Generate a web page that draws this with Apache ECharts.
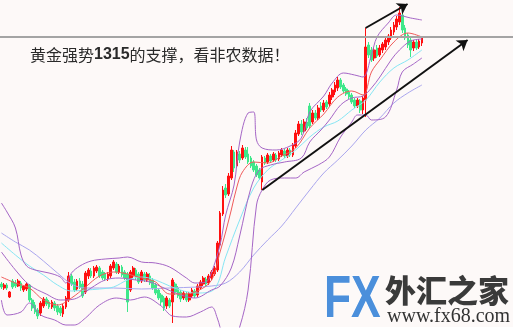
<!DOCTYPE html>
<html><head><meta charset="utf-8">
<script src="https://cdn.jsdelivr.net/npm/echarts@6/dist/echarts.min.js"></script>
<style>html,body{margin:0;padding:0;background:#fff}#c{width:516px;height:330px}</style>
</head><body><div id="c"></div><script>
// slot labels for the candle axis (candles fill the first 151 slots)
const slotCount = 183;
const categories = [];
for (let i = 0; i < slotCount; i++) categories.push('K' + i);

// candles: [open, close, low, high]
const candles = [
[1301.6,1301.3,1301.1,1301.8],[1301.2,1301.5,1301.0,1301.7],[1301.5,1301.2,1301.0,1301.7],[1300.3,1300.8,1300.2,1300.9],
[1301.9,1301.3,1301.1,1302.1],[1301.7,1301.4,1301.2,1302.0],[1301.4,1301.9,1301.3,1302.1],[1301.7,1301.2,1300.9,1301.9],
[1301.0,1301.4,1300.8,1301.5],[1301.1,1301.6,1300.9,1301.8],[1301.5,1300.0,1299.8,1301.6],[1300.0,1299.2,1298.9,1300.2],
[1299.5,1298.8,1298.6,1299.8],[1299.0,1298.4,1298.1,1299.2],[1298.7,1299.7,1298.4,1299.9],[1299.4,1300.1,1299.2,1300.3],
[1300.1,1299.6,1299.4,1300.3],[1299.8,1299.3,1299.1,1300.0],[1299.3,1299.8,1299.1,1300.0],[1299.7,1299.2,1298.9,1299.9],
[1299.4,1298.8,1298.5,1299.6],[1299.2,1298.7,1298.4,1299.4],[1298.6,1299.4,1298.3,1299.6],[1299.3,1300.2,1299.1,1300.4],
[1300.0,1302.4,1299.8,1302.8],[1302.4,1301.6,1301.4,1302.6],[1301.8,1301.0,1300.8,1302.1],[1301.1,1301.9,1300.9,1302.1],
[1301.9,1301.3,1301.1,1302.2],[1301.6,1300.4,1300.2,1301.9],[1300.8,1302.7,1300.6,1302.9],[1302.4,1303.0,1302.1,1303.2],
[1302.9,1302.4,1302.2,1303.2],[1302.4,1303.2,1302.2,1303.4],[1302.9,1303.3,1302.7,1303.5],[1303.2,1302.4,1302.2,1303.4],
[1302.8,1302.2,1302.0,1303.0],[1302.6,1302.1,1301.9,1302.8],[1302.1,1302.6,1301.9,1302.8],[1302.4,1303.4,1302.2,1303.6],
[1303.2,1303.8,1303.0,1304.0],[1303.6,1302.8,1302.6,1303.8],[1302.8,1303.4,1302.6,1303.6],[1303.3,1302.5,1302.3,1303.5],
[1302.8,1302.2,1302.0,1303.0],[1302.6,1299.8,1298.8,1302.8],[1301.0,1302.8,1300.8,1303.0],[1302.4,1303.2,1302.2,1303.4],
[1303.0,1302.2,1302.0,1303.2],[1302.6,1301.8,1301.6,1302.8],[1301.9,1302.8,1301.7,1303.0],[1302.6,1302.0,1301.8,1302.8],
[1302.0,1302.6,1301.8,1302.8],[1302.4,1301.7,1301.5,1302.7],[1302.0,1301.2,1301.0,1302.2],[1301.5,1300.7,1300.5,1301.7],
[1301.0,1300.2,1300.0,1301.2],[1300.5,1299.8,1299.5,1300.7],[1300.2,1299.2,1298.9,1300.4],[1299.4,1300.2,1299.1,1300.4],
[1300.0,1299.4,1299.2,1300.2],[1299.8,1302.0,1297.7,1302.2],[1301.6,1300.8,1300.5,1301.8],[1301.2,1300.4,1300.2,1301.4],
[1300.8,1300.1,1299.8,1301.0],[1300.2,1300.7,1300.0,1300.9],[1300.6,1300.0,1299.8,1300.8],[1300.0,1300.6,1299.8,1300.8],
[1300.4,1301.0,1300.2,1301.2],[1300.9,1300.4,1300.2,1301.1],[1300.5,1301.4,1300.3,1301.6],[1301.2,1301.8,1301.0,1302.0],
[1301.6,1302.2,1301.4,1302.4],[1302.1,1301.6,1301.4,1302.3],[1301.7,1302.4,1301.5,1302.6],[1302.2,1302.8,1302.0,1303.0],
[1302.6,1303.2,1302.4,1303.4],[1303.0,1305.7,1302.8,1305.9],[1305.5,1308.7,1305.3,1308.9],[1308.6,1311.0,1308.4,1311.4],
[1311.2,1310.5,1310.2,1311.6],[1310.6,1312.4,1310.4,1312.7],[1312.2,1315.0,1312.0,1315.4],[1314.8,1313.2,1312.8,1315.0],
[1313.4,1314.8,1313.2,1315.0],[1314.6,1314.0,1313.7,1314.9],[1314.2,1315.2,1314.0,1315.5],[1315.0,1314.3,1314.1,1315.3],
[1314.6,1313.8,1313.6,1315.3],[1314.2,1313.4,1313.2,1314.4],[1313.8,1313.0,1312.8,1314.0],[1313.4,1312.5,1312.3,1313.6],
[1313.0,1312.2,1312.0,1313.2],[1311.8,1314.3,1311.0,1314.5],[1314.2,1313.7,1313.5,1314.4],[1313.8,1314.5,1313.6,1314.7],
[1314.4,1313.9,1313.7,1314.6],[1314.0,1314.6,1313.8,1314.8],[1314.5,1314.0,1313.8,1314.7],[1314.1,1314.7,1313.9,1314.9],
[1314.5,1315.0,1314.3,1315.2],[1314.9,1314.4,1314.2,1315.1],[1314.4,1315.0,1314.2,1315.2],[1315.0,1314.5,1314.3,1315.2],
[1314.5,1315.5,1314.3,1315.7],[1315.4,1316.7,1315.2,1317.0],[1316.6,1317.6,1316.4,1317.9],[1317.6,1316.8,1316.5,1318.0],
[1316.9,1317.8,1316.7,1318.1],[1317.8,1317.2,1317.0,1318.2],[1319.4,1317.4,1317.2,1319.7],[1317.8,1318.7,1317.6,1319.0],
[1318.7,1318.2,1318.0,1319.0],[1318.2,1319.2,1318.0,1319.5],[1319.4,1319.0,1318.8,1319.8],[1319.0,1319.7,1318.8,1320.0],
[1319.8,1319.3,1319.1,1320.0],[1319.6,1320.5,1319.4,1320.8],[1320.3,1321.0,1320.0,1321.2],[1320.8,1321.5,1320.5,1321.8],
[1321.2,1322.0,1320.9,1322.3],[1322.0,1321.3,1321.1,1322.2],[1321.5,1320.9,1320.7,1321.7],[1321.1,1320.6,1320.4,1321.3],
[1320.8,1320.3,1320.1,1321.0],[1320.5,1319.8,1319.6,1320.7],[1320.0,1319.4,1319.2,1320.2],[1319.4,1320.0,1319.2,1320.2],
[1319.9,1319.0,1318.7,1320.1],[1319.0,1320.2,1318.6,1320.4],[1320.0,1325.3,1318.3,1327.2],[1325.5,1324.5,1324.2,1325.8],
[1325.0,1324.0,1323.8,1325.3],[1324.2,1325.0,1323.9,1325.3],[1325.2,1324.4,1324.2,1325.5],[1324.5,1325.2,1324.3,1325.5],
[1325.0,1325.6,1324.7,1325.8],[1325.3,1326.0,1325.0,1326.3],[1325.8,1326.4,1325.5,1326.6],[1326.2,1327.0,1326.0,1327.3],
[1326.8,1327.5,1326.5,1327.8],[1327.3,1328.1,1327.0,1328.4],[1327.8,1328.7,1327.5,1329.3],[1328.5,1327.0,1326.7,1328.8],
[1327.2,1326.2,1326.0,1327.5],[1326.5,1325.5,1325.2,1326.7],[1326.0,1325.0,1324.3,1326.2],[1325.2,1325.8,1324.9,1326.0],
[1325.8,1325.2,1325.0,1326.0],[1325.3,1325.9,1325.1,1326.1],[1325.7,1326.2,1325.4,1326.4]
];

// indicator lines: [candle index, price]
const bollUpper = [[0,1309.7],[2,1308.8],[5,1307.2],[7,1304.5],[9,1303.4],[12,1303.0],[17,1302.7],[21,1302.3],[23,1301.7],[25,1302.7],[28,1303.4],[32,1303.9],[37,1304.1],[42,1304.2],[45,1304.3],[50,1303.8],[55,1303.7],[60,1303.3],[66,1302.2],[69,1301.7],[73,1301.8],[75,1302.8],[78,1305.5],[80,1308.5],[83,1311.5],[85,1315.8],[88,1318.7],[90,1318.8],[91,1316.0],[93,1315.2],[98,1315.0],[103,1315.4],[107,1316.2],[110,1318.8],[115,1320.4],[118,1321.7],[122,1322.7],[126,1322.5],[129,1322.3],[132,1324.5],[134,1326.3],[138,1327.7],[141,1328.5],[146,1328.2],[150,1328.0]];
const bollMid = [[0,1304.8],[5,1303.0],[10,1301.5],[16,1300.6],[21,1300.0],[26,1300.1],[32,1301.2],[37,1302.0],[42,1302.2],[48,1302.0],[53,1301.8],[58,1301.2],[64,1300.5],[69,1300.2],[75,1301.0],[78,1301.4],[82,1303.2],[85,1306.4],[89,1311.2],[92,1313.0],[96,1313.5],[101,1313.8],[107,1314.2],[110,1315.8],[114,1317.0],[117,1318.0],[121,1319.5],[125,1320.2],[129,1320.4],[132,1321.2],[135,1322.3],[139,1324.0],[142,1325.0],[146,1325.9],[150,1326.1]];
const bollLower = [[0,1300.0],[2,1298.5],[7,1298.8],[10,1299.7],[14,1298.5],[19,1298.0],[23,1297.5],[26,1297.5],[30,1298.2],[35,1299.5],[41,1300.2],[46,1300.0],[51,1300.3],[57,1299.4],[61,1298.4],[66,1298.3],[71,1298.8],[75,1299.3],[77,1298.2],[79,1296.5],[82,1295.5],[85,1297.3],[88,1301.0],[91,1309.5],[93,1311.0],[96,1312.0],[101,1312.2],[105,1312.2],[108,1312.8],[113,1313.5],[117,1314.3],[121,1316.3],[125,1317.8],[127,1318.5],[130,1318.5],[132,1318.0],[137,1318.3],[141,1321.0],[143,1322.8],[147,1323.6],[150,1324.2]];
const maFast = [[0,1302.3],[5,1301.7],[10,1301.2],[15,1300.0],[20,1299.5],[25,1300.2],[30,1301.3],[35,1302.4],[40,1302.8],[45,1302.6],[50,1302.2],[55,1301.8],[60,1300.6],[65,1300.6],[70,1300.9],[75,1302.0],[78,1304.8],[80,1306.8],[82,1309.0],[84,1311.3],[86,1312.8],[90,1313.8],[95,1313.7],[100,1314.4],[105,1315.2],[110,1317.2],[115,1318.6],[120,1320.3],[125,1320.9],[129,1320.5],[132,1322.8],[135,1324.0],[140,1325.8],[145,1326.7],[150,1326.3]];
const maMid = [[0,1305.7],[5,1304.5],[10,1303.4],[15,1302.5],[20,1301.5],[25,1300.9],[30,1301.0],[35,1301.1],[40,1301.3],[45,1302.0],[50,1302.3],[55,1302.0],[60,1301.4],[65,1300.9],[70,1300.7],[76,1301.1],[80,1304.3],[85,1308.0],[90,1311.2],[95,1313.0],[100,1314.0],[105,1315.0],[110,1316.3],[115,1317.3],[120,1317.9],[125,1319.0],[130,1320.0],[135,1321.8],[140,1323.2],[145,1324.0],[150,1325.0]];
const maSlow = [[0,1306.7],[5,1305.8],[10,1305.0],[15,1303.9],[20,1302.7],[25,1301.6],[30,1301.2],[40,1301.2],[50,1301.1],[60,1301.2],[70,1301.3],[75,1301.4],[80,1301.7],[85,1302.8],[90,1304.5],[95,1306.0],[100,1307.4],[105,1309.2],[110,1311.0],[115,1312.7],[120,1314.0],[125,1315.4],[130,1317.0],[135,1318.2],[140,1319.7],[145,1320.7],[150,1321.5]];

// annotations
const levelLine = 1326.3;
const trendArrow = [[93.07,1311.0],[166.3,1326.0]];
const topArrow = [[129.9,1327.2],[144.9,1329.6]];
const headline = ['黄金强势', '1315', '的支撑，看非农数据！'];

const chart = echarts.init(document.getElementById('c'), null, {renderer: 'canvas'});
const lineSeries = (name, data, color) => ({
  name, type: 'line', xAxisIndex: 1, yAxisIndex: 0, data, smooth: 0.35,
  symbol: 'none', silent: true, z: 3,
  lineStyle: {color, width: 1}
});
const purple = '#a566c6';
chart.setOption({
  animation: false,
  backgroundColor: '#ffffff',
  grid: {left: 0, right: 3, top: 0, bottom: 3, show: true, backgroundColor: '#fdf9f8', borderWidth: 0},
  xAxis: [
    {type: 'category', data: categories, boundaryGap: true, show: false},
    {type: 'value', min: -0.5, max: slotCount - 0.5, show: false}
  ],
  yAxis: [{type: 'value', min: 1297.3, max: 1330, show: false, splitLine: {show: false}}],
  series: [
    {
      type: 'candlestick', data: candles, xAxisIndex: 0, yAxisIndex: 0, barWidth: 2.2, z: 2, silent: true,
      itemStyle: {color: '#ff1010', color0: '#3ee88a', borderColor: '#ff1010', borderColor0: '#3ee88a', borderWidth: 1},
      markLine: {silent: true, symbol: 'none', label: {show: false},
        lineStyle: {color: '#a4a4a4', width: 2, type: 'solid'}, data: [{yAxis: levelLine}]}
    },
    lineSeries('slow', maSlow, '#aaa6ee'),
    lineSeries('mid', maMid, '#86e6f4'),
    lineSeries('upper', bollUpper, purple),
    lineSeries('middle', bollMid, purple),
    lineSeries('lower', bollLower, purple),
    Object.assign(lineSeries('fast', maFast, '#f05a5a'), {
      markLine: {silent: true, symbol: ['none', 'arrow'], symbolSize: 10, label: {show: false},
        lineStyle: {color: '#111', width: 2, type: 'solid'},
        data: [
          [{coord: trendArrow[0]}, {coord: trendArrow[1]}],
          [{coord: topArrow[0]}, {coord: topArrow[1]}]
        ]}
    })
  ],
  graphic: [
    {type: 'text', x: 30, y: 47, z: 10, style: {
      text: '{a|' + headline[0] + '}{b|' + headline[1] + '}{a|' + headline[2] + '}',
      rich: {
        a: {font: '16px "Noto Sans CJK SC"', fill: '#2a2a2a'},
        b: {font: 'bold 16px "Liberation Sans"', fill: '#2a2a2a'}
      }, verticalAlign: 'top'}},
    {type: 'text', x: 324, y: 270, scaleX: 0.74, z: 10, style: {
      text: 'FX', font: 'bold 60px "Liberation Sans"', verticalAlign: 'top',
      fill: '#4b8fdb', stroke: '#ffffff', lineWidth: 1}},
    {type: 'text', x: 385, y: 275, z: 10, style: {
      text: '外汇之家', font: '900 31px "Noto Sans CJK SC"', fill: '#3a3a3a', verticalAlign: 'top'}},
    {type: 'text', x: 387, y: 307, z: 10, style: {
      text: 'www.fx68.com', font: '20px "Liberation Serif"', fill: '#333333', verticalAlign: 'top'}}
  ]
});
</script></body></html>
